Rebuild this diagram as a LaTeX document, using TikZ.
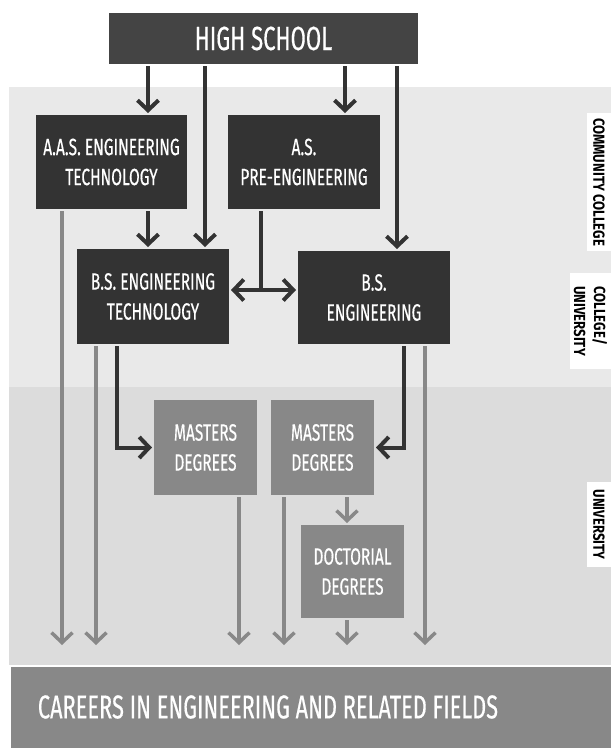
\documentclass[tikz,border=0pt]{standalone}
\usepackage{fontspec}
\setmainfont{Fira Sans}[FakeStretch=0.66, FakeBold=0.4]
\newfontfamily\sidefont{Fira Sans}[FakeStretch=0.82]
\usetikzlibrary{arrows.meta}
\definecolor{dark1}{RGB}{51,51,51}
\definecolor{dark2}{RGB}{68,68,68}
\definecolor{gray1}{RGB}{136,136,136}
\definecolor{band1}{RGB}{233,233,233}
\definecolor{band2}{RGB}{220,220,220}

\begin{document}
\begin{tikzpicture}[x=1pt, y=-1pt, line width=4pt,
  box/.style={rectangle, anchor=north west, text=white, align=center, inner sep=0pt, font=\fontsize{23.5}{30}\selectfont},
  darkarrow/.style={draw=dark1, -{Straight Barb[length=10pt,width=21pt]}},
  grayarrow/.style={draw=gray1, line width=3.5pt, -{Straight Barb[length=10pt,width=21pt]}},
  sidebox/.style={fill=white, rotate=-90, inner sep=0pt, align=left, font=\sidefont\bfseries\fontsize{16}{20}\selectfont}]
  \useasboundingbox (0,0) rectangle (611,748);
  \fill[band1] (9,87) rectangle (611,387);
  \fill[band2] (9,387) rectangle (611,665);

  \node[box, fill=dark2, minimum width=309pt, minimum height=51pt, font=\fontsize{33.5}{33}\selectfont] (hs) at (107,11) {HIGH SCHOOL};
  \node[box, fill=dark1, minimum width=151pt, minimum height=94pt] (aas) at (34,113) {A.A.S. ENGINEERING\\TECHNOLOGY};
  \node[box, fill=dark1, minimum width=152pt, minimum height=94pt] (as) at (226,113) {A.S.\\PRE-ENGINEERING};
  \node[box, fill=dark1, minimum width=152pt, minimum height=95pt] (bset) at (75,247) {B.S. ENGINEERING\\TECHNOLOGY};
  \node[box, fill=dark1, minimum width=152pt, minimum height=93pt] (bse) at (296,249) {B.S.\\ENGINEERING};
  \node[box, fill=gray1, minimum width=103pt, minimum height=95pt] (ms1) at (152,398) {MASTERS\\DEGREES};
  \node[box, fill=gray1, minimum width=103pt, minimum height=95pt] (ms2) at (269,398) {MASTERS\\DEGREES};
  \node[box, fill=gray1, minimum width=103pt, minimum height=93pt] (doc) at (299,523) {DOCTORIAL\\DEGREES};
  \node[box, fill=gray1, minimum width=602pt, minimum height=83pt] (careers) at (9,665) {};
  \node[text=white, font=\fontsize{33}{33}\selectfont] (careerstext) at (268,707) {CAREERS IN ENGINEERING AND RELATED FIELDS};

  \node[sidebox, minimum width=138pt, minimum height=24pt] (cc) at (599,182) {COMMUNITY COLLEGE};
  \node[sidebox, minimum width=96pt, minimum height=41pt] (cu) at (590.5,321) {COLLEGE/\\UNIVERSITY};
  \node[sidebox, minimum width=85pt, minimum height=24pt] (un) at (599,524.5) {UNIVERSITY};

  \coordinate (tips) at (0,645);
  \coordinate (split) at (261,290);
  \foreach \xx/\from/\to in {148/hs/aas, 345/hs/as, 205/hs/bset, 397/hs/bse, 148/aas/bset}
    \draw[darkarrow] (\from.south -| \xx,0) -- (\to.north -| \xx,0);
  \draw[draw=dark1] (as.south -| split) -- (split);
  \draw[darkarrow, {Straight Barb[length=10pt,width=21pt]}-{Straight Barb[length=10pt,width=21pt]}] (bset.east |- split) -- (bse.west |- split);
  \draw[darkarrow] (bset.south -| 117,0) |- (ms1.west);
  \draw[darkarrow] (bse.south -| 404,0) |- (ms2.east);
  \draw[grayarrow] (ms2.south -| 347,0) -- (doc.north -| 347,0);
  \foreach \xx/\from in {62/aas, 96/bset, 239/ms1, 284/ms2, 347/doc, 425/bse}
    \draw[grayarrow] (\from.south -| \xx,0) -- (tips -| \xx,0);
\end{tikzpicture}
\end{document}
